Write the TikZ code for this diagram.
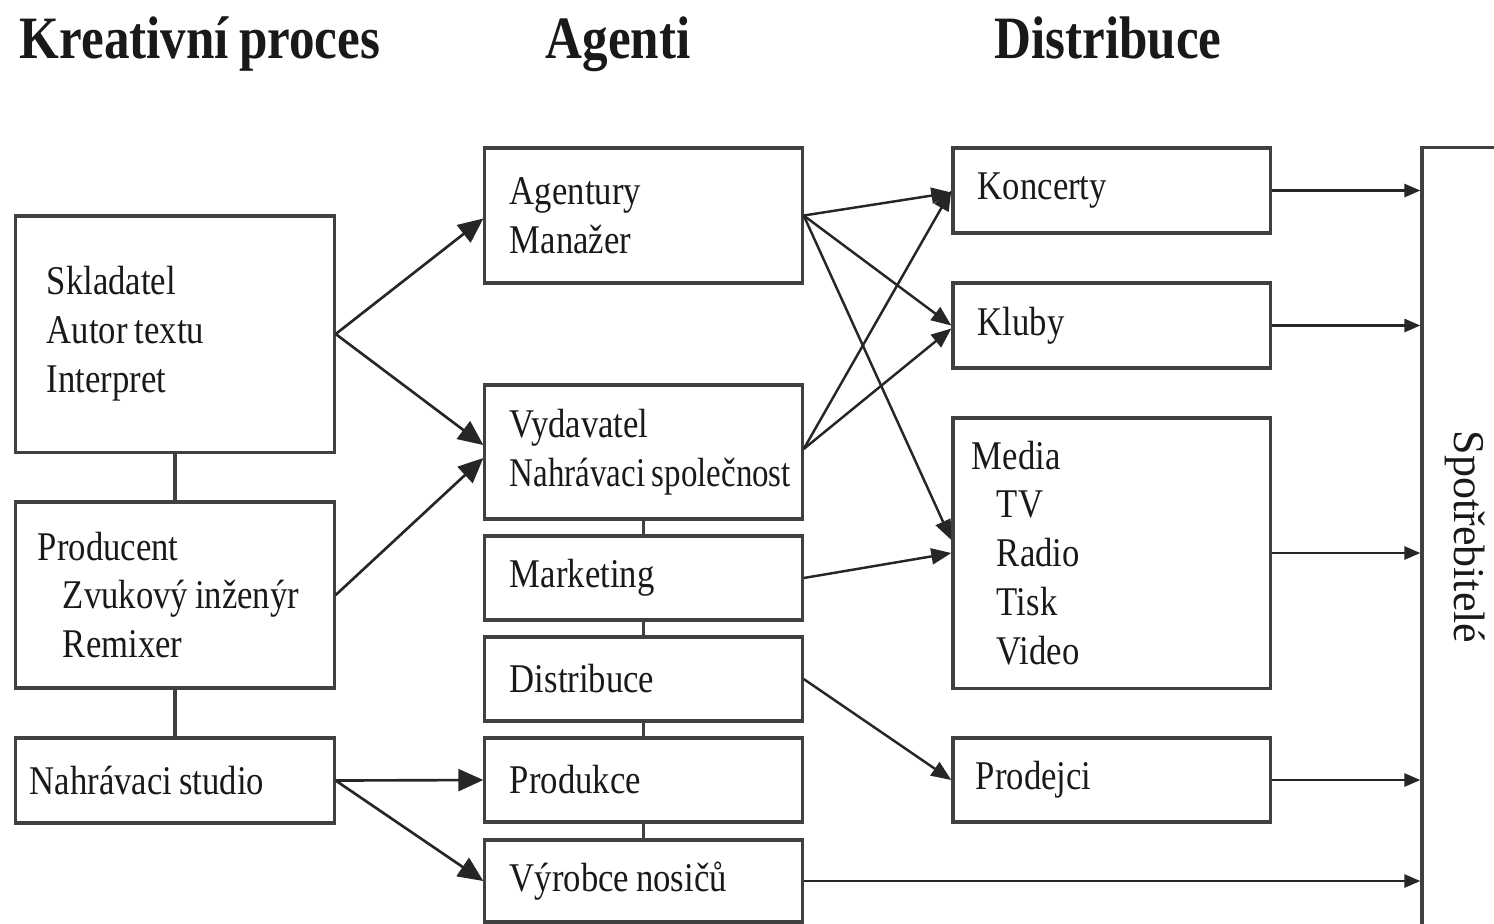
\documentclass[tikz,border=0pt]{standalone}
\usepackage{graphicx}
\usepackage{fontspec}
\setmainfont[FakeStretch=0.85]{Liberation Serif}
\newfontfamily\rotfont{Liberation Serif}
\usetikzlibrary{arrows.meta}
\newcommand\bodysp{\spaceskip 0.17em\relax\xspaceskip 0.17em\relax}
\newcommand\titlesp{\spaceskip 0.17em\relax}
\begin{document}
\begin{tikzpicture}[x=0.01cm,y=-0.01cm,
  box/.style={draw=black!75, line width=0.9pt, rectangle, align=left, anchor=center,
    inner ysep=0pt, text=black!90, font=\fontsize{11.6}{13.9}\selectfont,
    execute at begin node=\bodysp},
  colA/.style={box, minimum width=3.18cm, text width=2.56cm, inner xsep=0.31cm},
  colM/.style={box, minimum width=3.17cm, text width=2.67cm, inner xsep=0.25cm},
  title/.style={anchor=base, text=black!90, font=\fontsize{17.1}{20}\selectfont\bfseries\titlesp},
  link/.style={draw=black!75, line width=0.9pt},
  arrbig/.style={draw=black!85, line width=0.75pt, -{Triangle[length=0.25cm, width=0.22cm]}},
  arrmid/.style={draw=black!85, line width=0.7pt, -{Triangle[length=0.2cm, width=0.16cm]}},
  arrsm/.style={draw=black!85, line width=0.75pt, -{Triangle[length=0.16cm, width=0.13cm]}}
]
\useasboundingbox (0,0) rectangle (1494,923);
\clip (0,0) rectangle (1494,923);

% titles
\node[title] (t1) at (200,58) {Kreativní proces};
\node[title] (t2) at (618,58) {Agenti};
\node[title] (t3) at (1108,58) {Distribuce};

% left column
\node[colA, minimum height=2.36cm] (skl) at (175,334) {Skladatel\\\mbox{Autor textu}\\Interpret};
\node[colA, minimum height=1.86cm, text width=2.74cm, inner xsep=0.22cm] (prod) at (175,595)
  {Producent\\\hspace*{0.25cm}\mbox{Zvukový inženýr}\\\hspace*{0.25cm}Remixer};
\node[colA, minimum height=0.85cm, text width=2.90cm, inner xsep=0.14cm] (studio) at (175,780.5) {\mbox{Nahrávaci studio}};

% middle column
\node[colM, minimum height=1.35cm] (ag) at (643.5,215.5) {Agentury\\Manažer};
\node[colM, minimum height=1.34cm] (vyd) at (643.5,452) {Vydavatel\\\mbox{\scalebox{0.95}[1]{Nahrávaci společnost}}};
\node[colM, minimum height=0.84cm] (mark) at (643.5,578) {Marketing};
\node[colM, minimum height=0.84cm] (dist) at (643.5,679) {Distribuce};
\node[colM, minimum height=0.84cm] (produkce) at (643.5,780) {Produkce};
\node[colM, minimum height=0.82cm] (vyr) at (643.5,881) {\mbox{Výrobce nosičů}};

% right column
\node[colM, minimum height=0.85cm] (kon) at (1111.5,190.5) {Koncerty};
\node[colM, minimum height=0.85cm] (klub) at (1111.5,325.5) {Kluby};
\node[colM, minimum height=2.70cm, text width=2.79cm, inner xsep=0.19cm] (media) at (1111.5,553)
  {Media\\\hspace*{0.25cm}TV\\\hspace*{0.25cm}Radio\\\hspace*{0.25cm}Tisk\\\hspace*{0.25cm}Video};
\node[colM, minimum height=0.84cm, text width=2.71cm, inner xsep=0.23cm] (prodejci) at (1111.5,780) {Prodejci};

% consumers
\node[draw=black!75, line width=0.9pt, minimum width=0.86cm, minimum height=7.78cm, inner sep=0pt] (spot) at (1465,537)
  {\rotatebox{-90}{\rotfont\fontsize{12.5}{14}\selectfont\color{black!90}Spotřebitelé}};

% vertical links
\draw[link] (skl.south) -- (prod.north);
\draw[link] (prod.south) -- (studio.north);
\draw[link] (vyd.south) -- (mark.north);
\draw[link] (mark.south) -- (dist.north);
\draw[link] (dist.south) -- (produkce.north);
\draw[link] (produkce.south) -- (vyr.north);

% left arrows
\draw[arrbig] (skl.east) -- ([yshift=-0.03cm]ag.west);
\draw[arrbig] (skl.east) -- ([yshift=0.07cm]vyd.west);
\draw[arrbig] (prod.east) -- ([yshift=-0.06cm]vyd.west);
\draw[arrbig] (studio.east) -- (produkce.west);
\draw[arrbig] (studio.east) -- (vyr.west);

% middle arrows
\draw[arrmid] (ag.east) -- ([yshift=-0.02cm]kon.west);
\draw[arrmid] (ag.east) -- (klub.west);
\draw[arrmid] (ag.east) -- ([yshift=0.13cm]media.west);
\draw[arrmid] ([yshift=0.03cm]vyd.east) -- (kon.west);
\draw[arrmid] ([yshift=0.03cm]vyd.east) -- ([yshift=-0.03cm]klub.west);
\draw[arrmid] (mark.east) -- (media.west);
\draw[arrmid] (dist.east) -- (prodejci.west);

% right arrows
\draw[arrsm] (kon.east) -- (kon.east -| spot.west);
\draw[arrsm] (klub.east) -- (klub.east -| spot.west);
\draw[arrsm] (media.east) -- (media.east -| spot.west);
\draw[arrsm] (prodejci.east) -- (prodejci.east -| spot.west);
\draw[arrsm] (vyr.east) -- (vyr.east -| spot.west);
\end{tikzpicture}
\end{document}
